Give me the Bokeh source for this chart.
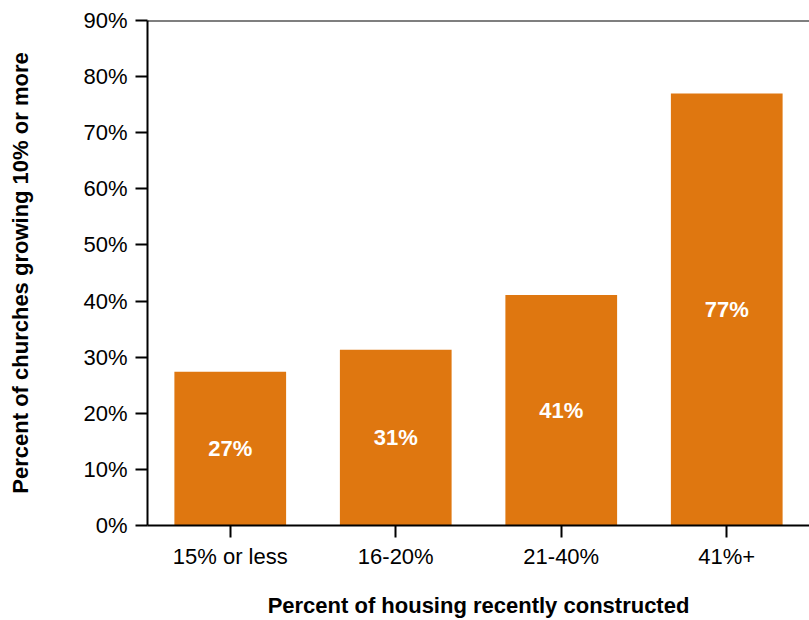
from bokeh.plotting import figure
from bokeh.models import (FactorRange, Range1d, FixedTicker, Span,
                          CustomJSTickFormatter, ColumnDataSource, LabelSet)
from bokeh.core.properties import value
from bokeh.embed import file_html
from bokeh.resources import INLINE

categories = ["15% or less", "16-20%", "21-40%", "41%+"]
values = [27.4, 31.3, 41.1, 77.0]
bar_labels = ["27%", "31%", "41%", "77%"]
y_ticks = [0, 10, 20, 30, 40, 50, 60, 70, 80, 90]
y_max = 90
x_title = "Percent of housing recently constructed"
y_title = "Percent of churches growing 10% or more"

FONT = "Liberation Sans"
ORANGE = "#DF7710"

src = ColumnDataSource(dict(
    cat=categories,
    val=values,
    mid=[v / 2 for v in values],
    lab=bar_labels,
))

p = figure(
    width=809, height=620,
    x_range=FactorRange(*categories, range_padding=0),
    y_range=Range1d(0, y_max),
    output_backend="svg", toolbar_location=None,
    min_border_left=147, min_border_right=0,
    min_border_top=20, min_border_bottom=93,
)
p.outline_line_color = None
p.xgrid.grid_line_color = None
p.ygrid.grid_line_color = None
p.background_fill_color = "white"
p.border_fill_color = "white"

p.vbar(x="cat", top="val", width=0.675, source=src,
       fill_color=ORANGE, line_color=None)

labels = LabelSet(x="cat", y="mid", text="lab", source=src,
                  text_align="center", text_baseline="middle",
                  text_color="white", text_font_style="bold",
                  text_font_size="22px", text_font=value(FONT))
p.add_layout(labels)

# top line of the frame
p.add_layout(Span(location=y_max, dimension="width",
                  line_color="black", line_width=2))

# y axis
ya = p.yaxis[0]
ya.ticker = FixedTicker(ticks=y_ticks)
ya.formatter = CustomJSTickFormatter(code="return tick + '%';")
ya.axis_line_width = 2
ya.major_tick_line_width = 2
ya.major_tick_out = 12
ya.major_tick_in = 0
ya.minor_tick_line_color = None
ya.major_label_standoff = 8
ya.major_label_text_font = FONT
ya.major_label_text_font_size = "22px"
ya.major_label_text_color = "black"
ya.axis_label = y_title
ya.axis_label_text_font = FONT
ya.axis_label_text_font_style = "bold"
ya.axis_label_text_font_size = "22px"
ya.axis_label_text_color = "black"
ya.axis_label_standoff = 47

# x axis
xa = p.xaxis[0]
xa.axis_line_width = 2
xa.major_tick_line_width = 2
xa.major_tick_out = 12
xa.major_tick_in = 0
xa.minor_tick_line_color = None
xa.major_label_standoff = 6
xa.major_label_text_font = FONT
xa.major_label_text_font_size = "22px"
xa.major_label_text_color = "black"
xa.axis_label = x_title
xa.axis_label_text_font = FONT
xa.axis_label_text_font_style = "bold"
xa.axis_label_text_font_size = "22px"
xa.axis_label_text_color = "black"
xa.axis_label_standoff = 21

open("out.html", "w").write(file_html(p, INLINE))
